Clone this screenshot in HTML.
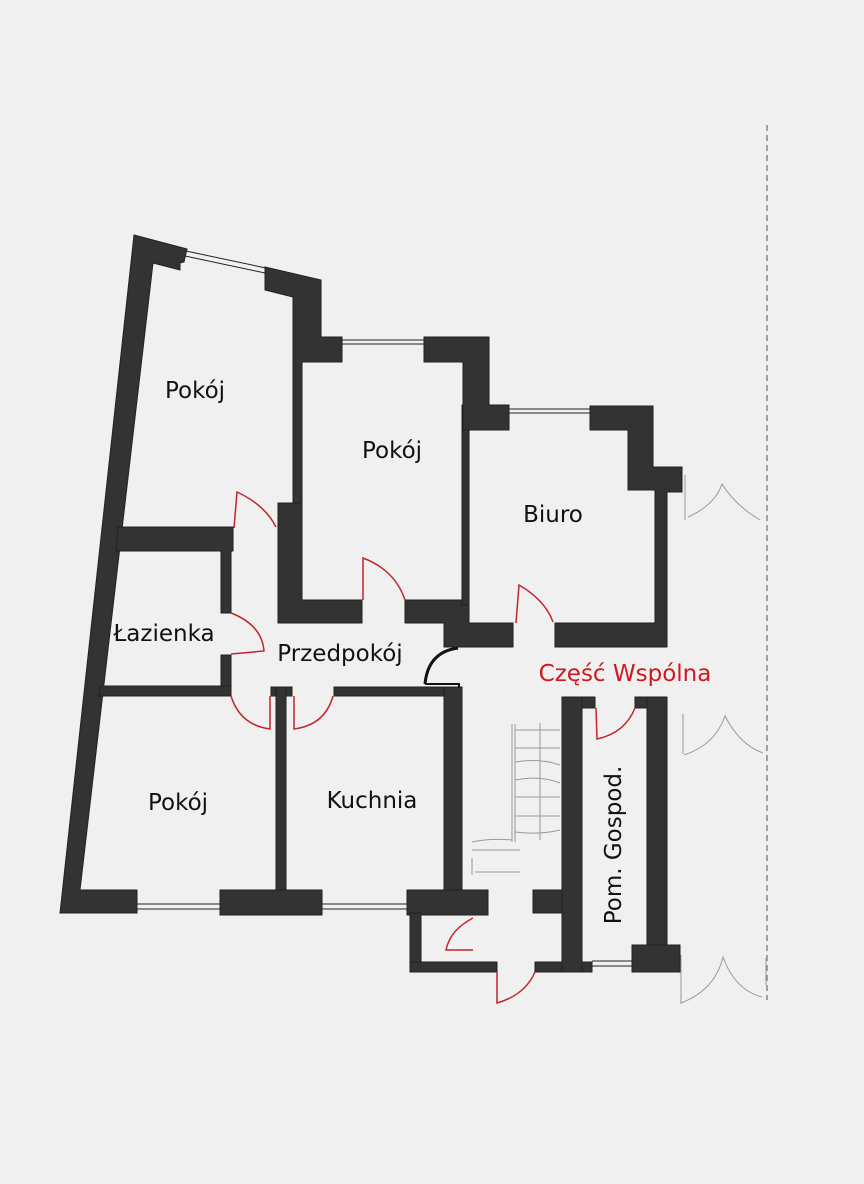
<!DOCTYPE html>
<html><head><meta charset="utf-8"><style>
html,body{margin:0;padding:0;background:#f0f0f0;}
svg{display:block;}
text{font-family:"DejaVu Sans","Liberation Sans",sans-serif;}
</style></head><body>
<svg width="864" height="1184" viewBox="0 0 864 1184" xmlns="http://www.w3.org/2000/svg">
<rect width="864" height="1184" fill="#f0f0f0"/>
<g fill="#333" stroke="#222" stroke-width="1">
<polygon points="134,235 187,249 184,262 180,263 180,270 153,263 80,890 137,890 137,913 60,913"/>
<polygon points="265,267 321,280 321,337 342,337 342,362 302,362 302,503 293,503 293,297 265,290"/>
<polygon points="118,527 233,527 233,551 231,551 231,613 221,613 221,551 116,551"/>
<rect x="221" y="655" width="10" height="33"/>
<polygon points="100,686 231,686 231,696 99,696"/>
<rect x="271" y="687" width="21" height="9"/>
<rect x="276" y="687" width="10" height="205"/>
<rect x="334" y="687" width="128" height="9"/>
<rect x="444" y="687" width="18" height="205"/>
<rect x="220" y="890" width="102" height="25"/>
<rect x="407" y="890" width="81" height="25"/>
<polygon points="278,503 302,503 302,600 362,600 362,623 278,623"/>
<polygon points="405,600 469,600 469,623 513,623 513,647 444,647 444,623 405,623"/>
<rect x="462" y="405" width="7" height="200"/>
<polygon points="424,337 489,337 489,405 509,405 509,430 463,430 463,362 424,362"/>
<polygon points="590,406 653,406 653,467 682,467 682,492 667,492 667,647 555,647 555,623 655,623 655,490 628,490 628,430 590,430"/>
<rect x="410" y="913" width="11" height="59"/>
<rect x="410" y="962" width="87" height="10"/>
<rect x="535" y="962" width="57" height="10"/>
<rect x="533" y="890" width="30" height="23"/>
<rect x="562" y="697" width="33" height="11"/>
<rect x="562" y="697" width="20" height="275"/>
<rect x="635" y="697" width="32" height="11"/>
<rect x="647" y="697" width="20" height="250"/>
<rect x="632" y="945" width="48" height="27"/>
</g>
<g stroke="#222" stroke-width="1" fill="none">
<line x1="186" y1="251" x2="266" y2="268"/><line x1="185" y1="256" x2="265" y2="273"/>
<line x1="342" y1="340" x2="424" y2="340"/><line x1="342" y1="344" x2="424" y2="344"/>
<line x1="509" y1="409" x2="590" y2="409"/><line x1="509" y1="413" x2="590" y2="413"/>
<line x1="137" y1="904" x2="220" y2="904"/><line x1="137" y1="909" x2="220" y2="909"/>
<line x1="322" y1="904" x2="407" y2="904"/><line x1="322" y1="909" x2="407" y2="909"/>
<line x1="592" y1="961" x2="632" y2="961"/><line x1="592" y1="966" x2="632" y2="966"/>
</g>
<path d="M425,684 Q428,652 458,648" stroke="#111" stroke-width="3" fill="none"/>
<path d="M425,684 L459,684 L459,688" stroke="#111" stroke-width="2" fill="none"/>
<g stroke="#c0262c" stroke-width="1.5" fill="none">
<path d="M234,528 L237,492 Q265,505 276,527"/>
<path d="M363,600 L363,558 Q395,570 405,600"/>
<path d="M516,623 L519,585 Q545,600 553,622"/>
<path d="M231,613 Q262,625 264,651 L231,654"/>
<path d="M231,696 Q240,725 270,729 L270,696"/>
<path d="M294,696 L294,729 Q325,725 333,696"/>
<path d="M596,708 L597,739 Q625,733 635,708"/>
<path d="M473,918 Q450,930 446,950 L473,950"/>
<path d="M497,972 L497,1003 Q525,995 535,972"/>
</g>
<g stroke="#999" stroke-width="1" fill="none">
<line x1="512" y1="724" x2="512" y2="842"/><line x1="515" y1="724" x2="515" y2="842"/>
<line x1="540" y1="723" x2="540" y2="840"/>
<path d="M515,730 H560 M515,748 H560 M515,762 Q540,758 560,765 M515,780 Q540,775 560,783 M515,797 H560 M515,816 H560 M515,832 Q540,835 560,830"/>
<path d="M472,842 Q490,838 512,840 M472,850 H520 M472,858 L472,875 M475,872 H520"/>
<path d="M685,475 L685,520 M688,517 Q715,505 722,484 Q735,505 760,520"/>
<path d="M683,714 L683,754 M684,755 Q715,745 725,716 Q740,745 763,753"/>
<path d="M681,955 L681,1004 M681,1003 Q715,990 723,957 Q735,990 762,997 M766,958 L766,985"/>
</g>
<line x1="767" y1="125" x2="767" y2="1000" stroke="#888" stroke-width="1.5" stroke-dasharray="6,4"/>
<g font-size="23" fill="#111" text-anchor="middle">
<text x="195" y="398">Pokój</text>
<text x="392" y="458">Pokój</text>
<text x="553" y="522">Biuro</text>
<text x="164" y="641">Łazienka</text>
<text x="340" y="661">Przedpokój</text>
<text x="178" y="810">Pokój</text>
<text x="372" y="808">Kuchnia</text>
<text x="625" y="681" fill="#d0181f">Część Wspólna</text>
<text transform="translate(621,845) rotate(-90)">Pom. Gospod.</text>
</g>
</svg>
</body></html>
